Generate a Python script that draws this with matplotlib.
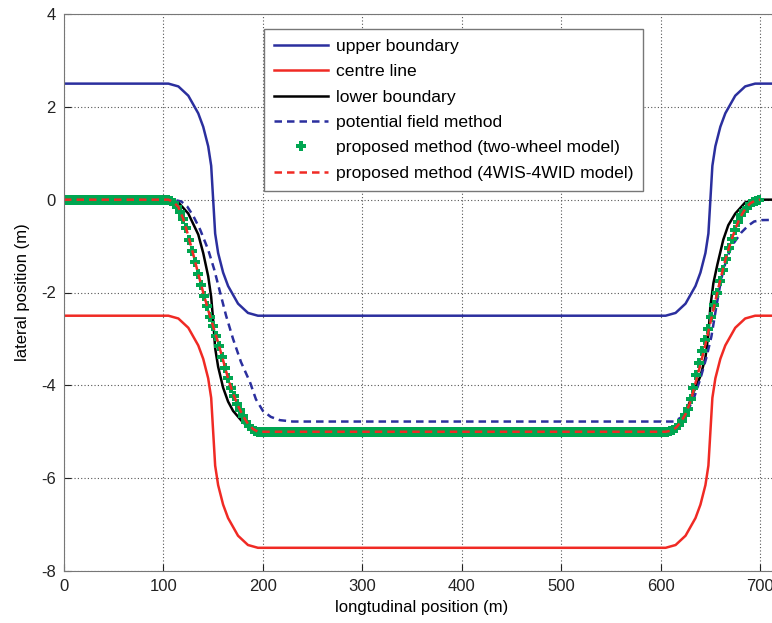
import matplotlib
matplotlib.use("Agg")
import matplotlib.pyplot as plt

plt.rcParams["font.family"] = ["Liberation Sans", "DejaVu Sans"]
plt.rcParams["axes.unicode_minus"] = False

# upper boundary (blue) / centre line (red) share the same shape, offset by 5 m
bound_x = [0, 105, 115, 125, 135, 140, 145, 148, 150, 152, 155, 160, 165, 175, 185, 195,
           605, 615, 625, 635, 640, 645, 648, 650, 652, 655, 660, 665, 675, 685, 695, 730]
upper_y = [2.5, 2.5, 2.44, 2.24, 1.86, 1.57, 1.15, 0.73, 0.0, -0.73, -1.15, -1.57, -1.86, -2.24, -2.44, -2.5,
           -2.5, -2.44, -2.24, -1.86, -1.57, -1.15, -0.73, 0.0, 0.73, 1.15, 1.57, 1.86, 2.24, 2.44, 2.5, 2.5]
centre_y = [-2.5, -2.5, -2.56, -2.76, -3.14, -3.43, -3.85, -4.27, -5.0, -5.73, -6.15, -6.57, -6.86, -7.24, -7.44, -7.5,
            -7.5, -7.44, -7.24, -6.86, -6.57, -6.15, -5.73, -5.0, -4.27, -3.85, -3.43, -3.14, -2.76, -2.56, -2.5, -2.5]

# lower boundary (black)
lower_x = [0, 105, 115, 125, 135, 140, 145, 148, 150, 152, 155, 160, 165, 170, 180, 190, 200,
           605, 615, 625, 632, 640, 645, 648, 650, 653, 657, 663, 668, 675, 685, 695, 730]
lower_y = [0, 0, -0.06, -0.3, -0.75, -1.15, -1.65, -2.1, -2.6, -3.2, -3.6, -4.05, -4.35, -4.55, -4.8, -4.95, -5.0,
           -5.0, -4.9, -4.6, -4.2, -3.8, -3.4, -2.9, -2.3, -1.8, -1.4, -0.86, -0.55, -0.3, -0.06, 0.0, 0.0]

# potential field method (blue dashed)
pf_x = [0, 110, 118, 124, 130, 137, 145, 151, 157, 163, 170, 178, 187, 193, 200, 208, 217, 230,
        605, 613, 620, 627, 634, 640, 646, 651, 656, 661, 666, 672, 681, 688, 694, 702, 730]
pf_y = [0, 0, -0.04, -0.15, -0.35, -0.65, -1.08, -1.5, -2.0, -2.5, -3.0, -3.5, -3.93, -4.3, -4.55, -4.68, -4.75, -4.78,
        -4.78, -4.78, -4.7, -4.55, -4.24, -3.85, -3.4, -2.95, -2.3, -1.7, -1.29, -0.98, -0.71, -0.56, -0.47, -0.44, -0.43]

# proposed method, two-wheel model (green markers), sampled every 3 m
tw_x = list(range(0, 701, 3))
tw_left = [-0.03, -0.08, -0.16, -0.27, -0.42, -0.62, -0.86, -1.1, -1.35, -1.6,
           -1.84, -2.07, -2.3, -2.52, -2.73, -2.93, -3.15, -3.38, -3.62, -3.85,
           -4.05, -4.24, -4.4, -4.54, -4.67, -4.78, -4.87, -4.94, -4.98, -5.0]
tw_right = [-4.99, -4.97, -4.92, -4.85, -4.76, -4.64, -4.5, -4.3, -4.05, -3.78,
            -3.52, -3.27, -3.02, -2.78, -2.52, -2.26, -2.0, -1.76, -1.52, -1.28,
            -1.05, -0.84, -0.65, -0.48, -0.34, -0.25, -0.17, -0.1, -0.05, -0.02, 0.0]
tw_y = [0.0] * 36 + tw_left + [-5.0] * 137 + tw_right

# proposed method, 4WIS-4WID model (red dashed)
fw_x = [0, 105, 110, 115, 120, 125, 130, 135, 140, 145, 150, 155, 160, 165, 170, 175, 180, 185, 190, 195,
        605, 610, 615, 620, 625, 630, 635, 640, 645, 650, 655, 660, 665, 670, 675, 680, 685, 690, 695, 700]
fw_y = [0, 0, -0.05, -0.16, -0.42, -0.78, -1.18, -1.6, -2.0, -2.38, -2.73, -3.08, -3.46, -3.85, -4.18, -4.44,
        -4.66, -4.83, -4.94, -5.0,
        -5.0, -4.98, -4.92, -4.8, -4.62, -4.35, -3.95, -3.55, -3.12, -2.65, -2.18, -1.72, -1.3, -0.95, -0.63,
        -0.38, -0.2, -0.08, -0.02, 0.0]

blue = "#2b2f9e"
red = "#f02a24"
green = "#00a651"

fig = plt.figure(figsize=(7.72, 6.23), dpi=100)
ax = fig.add_axes([64 / 772, 52 / 623, 716 / 772, 557 / 623])

lw = 1.8
ax.plot(bound_x, upper_y, color=blue, lw=lw, label="upper boundary")
ax.plot(bound_x, centre_y, color=red, lw=lw, label="centre line")
ax.plot(lower_x, lower_y, color="black", lw=lw, label="lower boundary")
ax.plot(pf_x, pf_y, color=blue, lw=lw, ls="--", dashes=(3, 2), label="potential field method")
ax.plot(tw_x, tw_y, ls="none", marker="P", ms=7, mew=0, color=green,
        label="proposed method (two-wheel model)")
ax.plot(fw_x, fw_y, color=red, lw=lw, ls="--", dashes=(3, 2), label="proposed method (4WIS-4WID model)")

ax.set_xlim(0, 720)
ax.set_ylim(-8, 4)
ax.set_xticks(range(0, 701, 100))
ax.set_yticks(range(-8, 5, 2))
ax.tick_params(direction="in", length=5, labelsize=12, pad=6, colors="#222222")
ax.grid(True, ls=(0, (1, 2)), color="#555555", lw=0.8)
for s in ax.spines.values():
    s.set_color("#777777")

ax.set_xlabel("longtudinal position (m)", fontsize=12, labelpad=4)
ax.set_ylabel("lateral position (m)", fontsize=12, labelpad=8)

leg = ax.legend(loc="upper left", bbox_to_anchor=(264 / 772, 1 - 29 / 623), bbox_transform=fig.transFigure,
                borderaxespad=0, fontsize=12.6, numpoints=1, handlelength=3.1, handletextpad=0.45,
                labelspacing=0.58, borderpad=0.55, fancybox=False, framealpha=1, edgecolor="#777777")
leg.get_frame().set_linewidth(1.0)

fig.savefig("out.png", dpi=100)
